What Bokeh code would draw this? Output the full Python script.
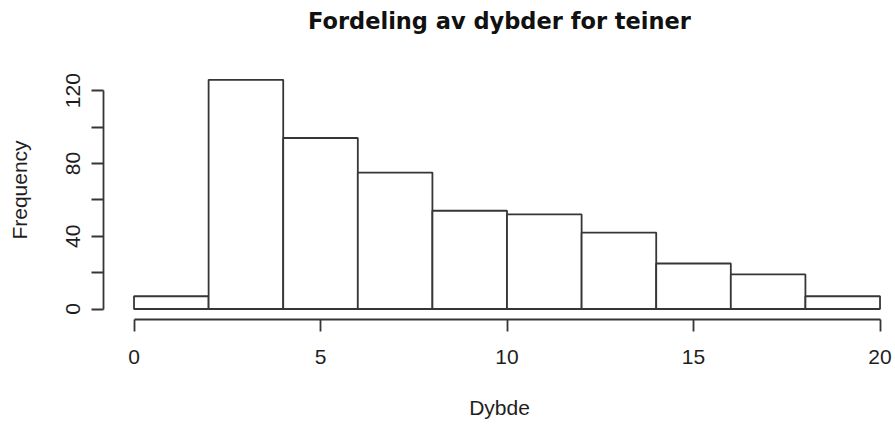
from bokeh.plotting import figure
from bokeh.models import LinearAxis, FixedTicker, Range1d
from bokeh.embed import file_html
from bokeh.resources import INLINE

# Data (histogram of depths)
bin_left = [0, 2, 4, 6, 8, 10, 12, 14, 16, 18]
bin_right = [2, 4, 6, 8, 10, 12, 14, 16, 18, 20]
counts = [7, 126, 94, 75, 54, 52, 42, 25, 19, 7]
x_ticks = [0, 5, 10, 15, 20]
y_major_ticks = [0, 40, 80, 120]
y_minor_ticks = [20, 60, 100]

title_text = "Fordeling av dybder for teiner"
x_label = "Dybde"
y_label = "Frequency"

LINE = "#363636"
TEXT = "#1e1e1e"
FONT = "Liberation Sans"

p = figure(width=895, height=428,
           x_range=Range1d(-0.818, 20.415), y_range=Range1d(-5.77, 136.6),
           x_axis_type=None, y_axis_type=None,
           output_backend="svg", toolbar_location=None,
           min_border_left=103, min_border_right=0,
           min_border_top=60, min_border_bottom=109)
p.outline_line_color = None
p.background_fill_color = "white"
p.border_fill_color = "white"

p.quad(left=bin_left, right=bin_right, bottom=0, top=counts,
       fill_color="white", line_color=LINE, line_width=1.8)

def style_axis(ax):
    ax.axis_line_color = LINE
    ax.axis_line_width = 1.8
    ax.major_tick_line_color = LINE
    ax.major_tick_line_width = 1.8
    ax.minor_tick_line_color = LINE
    ax.minor_tick_line_width = 1.8
    ax.major_tick_in = 0
    ax.major_tick_out = 12
    ax.minor_tick_in = 0
    ax.minor_tick_out = 12
    ax.major_label_text_font = FONT
    ax.major_label_text_font_size = "21px"
    ax.major_label_text_color = TEXT
    ax.axis_label_text_font = FONT
    ax.axis_label_text_font_size = "21px"
    ax.axis_label_text_font_style = "normal"
    ax.axis_label_text_color = TEXT

# x axis
xa = LinearAxis(ticker=FixedTicker(ticks=x_ticks), bounds=(0, 20))
style_axis(xa)
xa.major_label_standoff = 18
xa.axis_label = x_label
xa.axis_label_standoff = 29
p.add_layout(xa, "below")

# y axis (ticks)
ya = LinearAxis(ticker=FixedTicker(ticks=y_major_ticks, minor_ticks=y_minor_ticks), bounds=(0, 120))
style_axis(ya)
ya.major_label_orientation = "vertical"
ya.major_label_standoff = 11
p.add_layout(ya, "left")

# y axis label (separate, centred on plot region)
yl = LinearAxis(ticker=FixedTicker(ticks=[]), bounds=(-5.04, 131.04))
style_axis(yl)
yl.axis_line_color = None
yl.major_tick_out = 0
yl.minor_tick_out = 0
yl.major_label_standoff = 0
yl.axis_label = y_label
yl.axis_label_standoff = 33
p.add_layout(yl, "left")

# title as centred label above the plot region
ta = LinearAxis(ticker=FixedTicker(ticks=[]), bounds=(0, 20))
style_axis(ta)
ta.axis_line_color = None
ta.major_tick_out = 0
ta.minor_tick_out = 0
ta.major_label_standoff = 0
ta.axis_label = title_text
ta.axis_label_text_font = "DejaVu Sans"
ta.axis_label_text_font_style = "bold"
ta.axis_label_text_font_size = "22.5px"
ta.axis_label_text_color = "#111111"
ta.axis_label_standoff = 27
p.add_layout(ta, "above")

open("out.html", "w").write(file_html(p, INLINE))
